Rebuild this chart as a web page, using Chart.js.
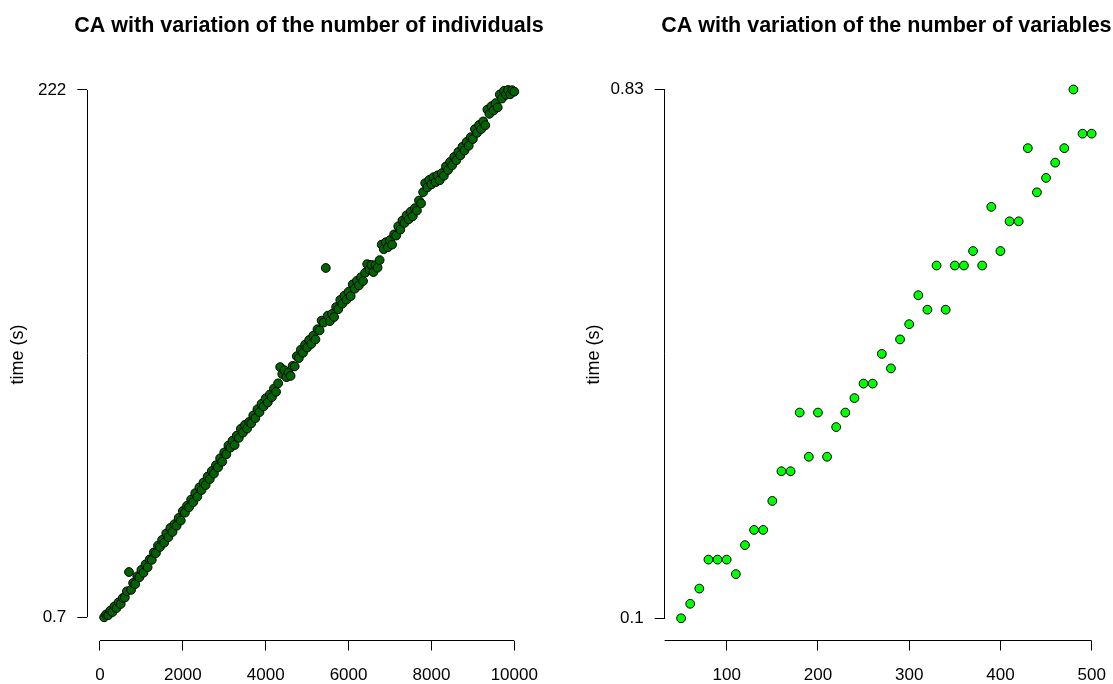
<!DOCTYPE html>
<html>
<head>
<meta charset="utf-8">
<script src="https://cdn.jsdelivr.net/npm/chart.js@4/dist/chart.umd.min.js"></script>
<style>
  html, body { margin:0; padding:0; background:#fff; overflow:hidden; }
  #wrap { position:relative; width:1113px; height:684px; overflow:hidden; background:#fff; }
  canvas { position:absolute; top:0; }
  #c1 { left:0; }
  #c2 { left:556px; }
</style>
</head>
<body>
<div id="wrap">
  <canvas id="c1" width="600" height="684"></canvas>
  <canvas id="c2" width="600" height="684"></canvas>
</div>
<script>
// ---------------- data ----------------
const titleIndividuals = 'CA with variation of the number of individuals';
const titleVariables = 'CA with variation of the number of variables';
const yAxisTitle = 'time (s)';

const indivN = [
  100,150,200,250,300,350,400,450,500,550,
  600,650,700,750,800,850,900,950,1000,1050,
  1100,1150,1200,1250,1300,1350,1400,1450,1500,1550,
  1600,1650,1700,1750,1800,1850,1900,1950,2000,2050,
  2100,2150,2200,2250,2300,2350,2400,2450,2500,2550,
  2600,2650,2700,2750,2800,2850,2900,2950,3000,3050,
  3100,3150,3200,3250,3300,3350,3400,3450,3500,3550,
  3600,3650,3700,3750,3800,3850,3900,3950,4000,4050,
  4100,4150,4200,4250,4300,4350,4400,4450,4500,4550,
  4600,4650,4700,4750,4800,4850,4900,4950,5000,5050,
  5100,5150,5200,5250,5300,5350,5400,5450,5500,5550,
  5600,5650,5700,5750,5800,5850,5900,5950,6000,6050,
  6100,6150,6200,6250,6300,6350,6400,6450,6500,6550,
  6600,6650,6700,6750,6800,6850,6900,6950,7000,7050,
  7100,7150,7200,7250,7300,7350,7400,7450,7500,7550,
  7600,7650,7700,7750,7800,7850,7900,7950,8000,8050,
  8100,8150,8200,8250,8300,8350,8400,8450,8500,8550,
  8600,8650,8700,8750,8800,8850,8900,8950,9000,9050,
  9100,9150,9200,9250,9300,9350,9400,9450,9500,9550,
  9600,9650,9700,9750,9800,9850,9900,9950,10000
];
const indivTime = [
  0.7,1.9,1.6,3.5,2.9,5.3,4.6,7.0,6.3,8.8,
  9.0,11.6,19.7,12.2,15.1,14.6,17.9,17.5,20.6,19.4,
  22.9,21.7,25.0,24.8,27.9,27.6,30.8,30.2,33.2,32.0,
  35.9,34.3,38.2,36.5,39.8,39.1,42.4,41.3,45.3,44.6,
  47.5,46.9,50.1,49.0,52.8,51.3,55.2,54.1,57.3,56.2,
  59.8,58.7,62.1,61.0,64.5,63.6,67.4,66.0,69.9,69.1,
  72.8,71.9,74.8,73.0,76.9,76.0,79.8,78.2,81.5,79.9,
  82.7,82.1,85.4,84.3,88.0,86.8,90.3,89.2,92.6,90.9,
  94.2,93.1,96.7,95.3,98.9,105.7,102.8,104.4,101.5,103.5,
  102.0,106.2,106.0,110.3,109.5,113.0,111.7,115.1,113.9,117.1,
  115.4,118.9,117.3,121.6,121.1,125.2,124.4,147.3,127.3,125.0,
  128.0,126.7,130.9,130.0,133.9,132.3,135.7,134.0,137.3,135.5,
  140.4,138.6,141.9,140.0,143.4,141.8,145.3,148.9,146.7,148.6,
  145.6,148.5,147.4,150.6,157.1,155.2,158.1,156.0,159.0,157.1,
  161.4,160.9,164.8,163.4,167.2,166.2,169.4,167.7,170.9,169.0,
  172.4,171.4,175.6,174.4,179.1,182.9,181.1,184.3,182.4,185.4,
  183.3,186.2,184.1,187.1,186.0,189.9,188.4,191.8,190.4,193.9,
  192.5,196.0,194.6,198.2,196.6,200.2,198.6,202.2,201.4,205.6,
  204.0,207.3,205.6,208.8,207.2,213.8,212.0,215.2,213.4,216.5,
  214.7,220.1,218.4,221.6,220.0,222.0,220.2,221.9,221.3
];
const indivXTicks = [0, 2000, 4000, 6000, 8000, 10000];
const indivYTicks = [0.7, 222];
const indivYLabels = ['0.7', '222'];

const varP = [
  50,60,70,80,90,100,110,120,130,140,
  150,160,170,180,190,200,210,220,230,240,
  250,260,270,280,290,300,310,320,330,340,
  350,360,370,380,390,400,410,420,430,440,
  450,460,470,480,490,500
];
const varTime = [
  0.100,0.120,0.141,0.181,0.181,0.181,0.161,0.201,0.222,0.222,
  0.262,0.303,0.303,0.384,0.323,0.384,0.323,0.364,0.384,0.404,
  0.424,0.424,0.465,0.445,0.485,0.506,0.546,0.526,0.587,0.526,
  0.587,0.587,0.607,0.587,0.668,0.607,0.648,0.648,0.749,0.688,
  0.708,0.729,0.749,0.830,0.769,0.769
];
const varXTicks = [100, 200, 300, 400, 500];
const varYTicks = [0.1, 0.83];
const varYLabels = ['0.1', '0.83'];

// ---------------- styling helpers ----------------
const FONT = "'Liberation Sans', Arial, Helvetica, sans-serif";
Chart.defaults.font.family = FONT;
Chart.defaults.color = '#000';

const rBaseAxes = {
  id: 'rBaseAxes',
  afterDraw(chart, args, o) {
    const {ctx, chartArea, scales} = chart;
    const xs = scales.x, ys = scales.y;
    ctx.save();
    ctx.strokeStyle = '#000';
    ctx.lineWidth = 1;
    const ax = Math.floor(chartArea.left) + 0.5;
    const ay = Math.floor(chartArea.bottom) + 0.5;
    ctx.beginPath();
    ctx.moveTo(ax, ys.getPixelForValue(o.yFrom));
    ctx.lineTo(ax, ys.getPixelForValue(o.yTo));
    ctx.moveTo(xs.getPixelForValue(o.xFrom), ay);
    ctx.lineTo(xs.getPixelForValue(o.xTo), ay);
    ctx.stroke();
    // main title
    ctx.fillStyle = '#000';
    ctx.font = 'bold 21.5px ' + FONT;
    ctx.textAlign = 'center';
    ctx.textBaseline = 'middle';
    ctx.fillText(o.title, (chartArea.left + chartArea.right) / 2, 26);
    ctx.restore();
  }
};

function makeChart(id, cfg) {
  const pts = cfg.xs.map((x, i) => ({x: x, y: cfg.ys[i]}));
  return new Chart(document.getElementById(id), {
    type: 'scatter',
    data: {
      datasets: [{
        data: pts,
        pointRadius: 4.4,
        pointHoverRadius: 4.4,
        borderWidth: 1,
        borderColor: '#000',
        backgroundColor: cfg.fill
      }]
    },
    plugins: [rBaseAxes],
    options: {
      responsive: false,
      animation: false,
      devicePixelRatio: 1,
      events: [],
      layout: { padding: { top: 68.5, bottom: 0, left: cfg.padLeft, right: cfg.padRight } },
      plugins: {
        legend: { display: false },
        tooltip: { enabled: false },
        rBaseAxes: { title: cfg.title, xFrom: cfg.xLineFrom, xTo: cfg.xLineTo, yFrom: cfg.yTicks[0], yTo: cfg.yTicks[cfg.yTicks.length - 1] }
      },
      scales: {
        x: {
          type: 'linear',
          min: cfg.xMin, max: cfg.xMax,
          border: { display: false },
          grid: { display: true, drawOnChartArea: false, drawTicks: true, tickLength: 10, color: '#000', lineWidth: 1 },
          ticks: {
            autoSkip: false, maxRotation: 0, padding: 15,
            font: { size: 17 }, color: '#000',
            callback: (v) => String(v)
          },
          afterBuildTicks: (s) => { s.ticks = cfg.xTicks.map(v => ({value: v})); },
          afterFit: (s) => { s.height = 684 - 640.5; }
        },
        y: {
          type: 'linear',
          min: cfg.yMin, max: cfg.yMax,
          border: { display: false },
          grid: { display: true, drawOnChartArea: false, drawTicks: true, tickLength: 10, color: '#000', lineWidth: 1 },
          ticks: {
            autoSkip: false, padding: 11,
            font: { size: 17 }, color: '#000',
            callback: (v, i) => cfg.yLabels[i]
          },
          title: { display: true, text: yAxisTitle, font: { size: 18 }, color: '#000', padding: { top: 7, bottom: 0 } },
          afterBuildTicks: (s) => { s.ticks = cfg.yTicks.map(v => ({value: v})); },
          afterFit: (s) => { s.width = cfg.yWidth; }
        }
      }
    }
  });
}

makeChart('c1', {
  xs: indivN, ys: indivTime, fill: '#006400',
  title: titleIndividuals,
  xTicks: indivXTicks, yTicks: indivYTicks, yLabels: indivYLabels,
  xMin: -306, xMax: 10396, yMin: -9.04, yMax: 231.02,
  xLineFrom: 0, xLineTo: 10000,
  padLeft: 0, padRight: 600 - 530.7, yWidth: 87.3
});

makeChart('c2', {
  xs: varP, ys: varTime, fill: '#00FF00',
  title: titleVariables,
  xTicks: varXTicks, yTicks: varYTicks, yLabels: varYLabels,
  xMin: 32, xMax: 518, yMin: 0.06935, yMax: 0.85897,
  xLineFrom: 32, xLineTo: 500,
  padLeft: 20, padRight: 600 - 552.1, yWidth: 88.65
});
</script>
</body>
</html>
